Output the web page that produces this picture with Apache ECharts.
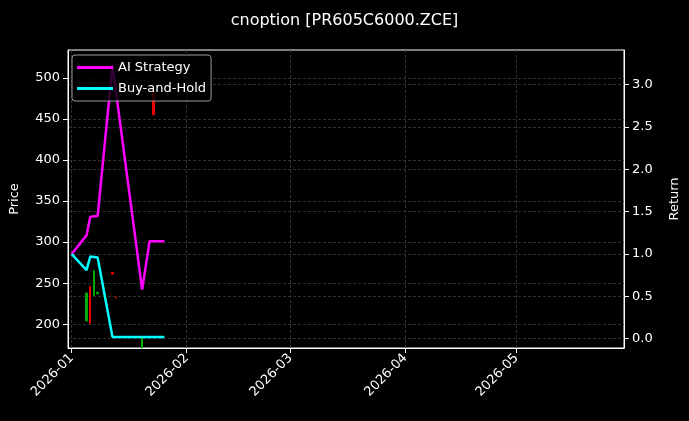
<!DOCTYPE html>
<html>
<head>
<meta charset="utf-8">
<script src="https://cdn.jsdelivr.net/npm/echarts@6/dist/echarts.min.js"></script>
<style>
  html, body { margin: 0; padding: 0; background: #000; }
  #chart { width: 689px; height: 421px; }
</style>
</head>
<body>
<div id="chart"></div>
<script>
const strategyDates = ['2026-01-01', '2026-01-05', '2026-01-06', '2026-01-08', '2026-01-12', '2026-01-20', '2026-01-22', '2026-01-26']
const aiReturn = [1.0, 1.22, 1.44, 1.45, 3.23, 0.58, 1.15, 1.15]
const bhDates = ['2026-01-01', '2026-01-05', '2026-01-06', '2026-01-08', '2026-01-12', '2026-01-26']
const bhReturn = [1.0, 0.81, 0.97, 0.96, 0.02, 0.02]

// [date, open, close, low, high]
const candles = [
  ['2026-01-05', 204, 238, 204, 238],
  ['2026-01-06', 246, 201, 201, 246],
  ['2026-01-07', 235, 265, 235, 265],
  ['2026-01-08', 237, 239, 237, 239],
  ['2026-01-12', 263, 261, 261, 263],
  ['2026-01-13', 233, 232, 232, 233],
  ['2026-01-20', 171, 183, 171, 183],
  ['2026-01-23', 482, 455, 455, 482],
]

const monthTicks = ['2026-01-01', '2026-02-01', '2026-03-01', '2026-04-01', '2026-05-01']
const priceTicks = [200, 250, 300, 350, 400, 450, 500]
const returnTicks = [0, 0.5, 1, 1.5, 2, 2.5, 3]

const ts = (d) => new Date(d + 'T00:00:00').getTime()

const chart = echarts.init(document.getElementById('chart'))
const font = 'DejaVu Sans'
const gridLine = { show: true, lineStyle: { color: '#3c3c3c', type: [3, 2], width: 0.8 } }

chart.setOption({
  backgroundColor: '#000',
  animation: false,
  textStyle: { fontFamily: font },
  title: {
    text: 'cnoption [PR605C6000.ZCE]',
    left: 'center',
    top: 8,
    textStyle: { color: '#fff', fontSize: 16, fontWeight: 'normal', fontFamily: font },
  },
  legend: {
    left: 72,
    top: 55,
    orient: 'vertical',
    itemWidth: 36,
    itemHeight: 3,
    itemGap: 8,
    padding: [6, 5],
    borderColor: '#999',
    borderWidth: 1,
    borderRadius: 3,
    backgroundColor: 'rgba(0,0,0,0.8)',
    textStyle: { color: '#fff', fontSize: 13, fontFamily: font },
    data: [
      { name: 'AI Strategy', icon: 'rect' },
      { name: 'Buy-and-Hold', icon: 'rect' },
    ],
  },
  grid: { left: 68, right: 61, top: 50, bottom: 73, show: true, borderColor: '#fff', borderWidth: 1 },
  xAxis: {
    type: 'value',
    min: ts('2025-12-31'),
    max: ts('2026-05-30'),
    axisLine: { onZero: false, lineStyle: { color: '#fff' } },
    axisTick: { show: true, customValues: monthTicks.map(ts), lineStyle: { color: '#fff' } },
    axisLabel: {
      customValues: monthTicks.map(ts),
      rotate: 45,
      color: '#fff',
      fontSize: 13,
      formatter: (v) => {
        const d = new Date(v)
        return d.getFullYear() + '-' + String(d.getMonth() + 1).padStart(2, '0')
      },
    },
    splitLine: gridLine,
  },
  yAxis: [
    {
      type: 'value',
      name: 'Price',
      nameLocation: 'middle',
      nameGap: 47,
      nameTextStyle: { color: '#fff', fontSize: 13 },
      min: 171,
      max: 534,
      axisLine: { show: true, lineStyle: { color: '#fff' } },
      axisTick: { show: true, customValues: priceTicks, lineStyle: { color: '#fff' } },
      axisLabel: { customValues: priceTicks, color: '#fff', fontSize: 13 },
      splitLine: gridLine,
    },
    {
      type: 'value',
      name: 'Return',
      nameLocation: 'middle',
      nameGap: 44,
      nameTextStyle: { color: '#fff', fontSize: 13 },
      min: -0.11,
      max: 3.41,
      position: 'right',
      axisLine: { show: true, lineStyle: { color: '#fff' } },
      axisTick: { show: true, customValues: returnTicks, lineStyle: { color: '#fff' } },
      axisLabel: { customValues: returnTicks, color: '#fff', fontSize: 13, formatter: (v) => v.toFixed(1) },
      splitLine: gridLine,
    },
  ],
  series: [
    {
      type: 'candlestick',
      yAxisIndex: 0,
      barWidth: 2,
      encode: { x: 0, y: [1, 2, 3, 4] },
      data: candles.map((c) => [ts(c[0]), c[1], c[2], c[3], c[4]]),
      itemStyle: { color: '#0a0', color0: '#e00', borderColor: '#0a0', borderColor0: '#e00', borderWidth: 1 },
    },
    {
      name: 'AI Strategy',
      type: 'line',
      yAxisIndex: 1,
      showSymbol: false,
      color: '#ff00ff',
      lineStyle: { width: 2.5 },
      data: strategyDates.map((d, i) => [ts(d), aiReturn[i]]),
    },
    {
      name: 'Buy-and-Hold',
      type: 'line',
      yAxisIndex: 1,
      showSymbol: false,
      color: '#00ffff',
      lineStyle: { width: 2.5 },
      data: bhDates.map((d, i) => [ts(d), bhReturn[i]]),
    },
  ],
})
</script>
</body>
</html>
